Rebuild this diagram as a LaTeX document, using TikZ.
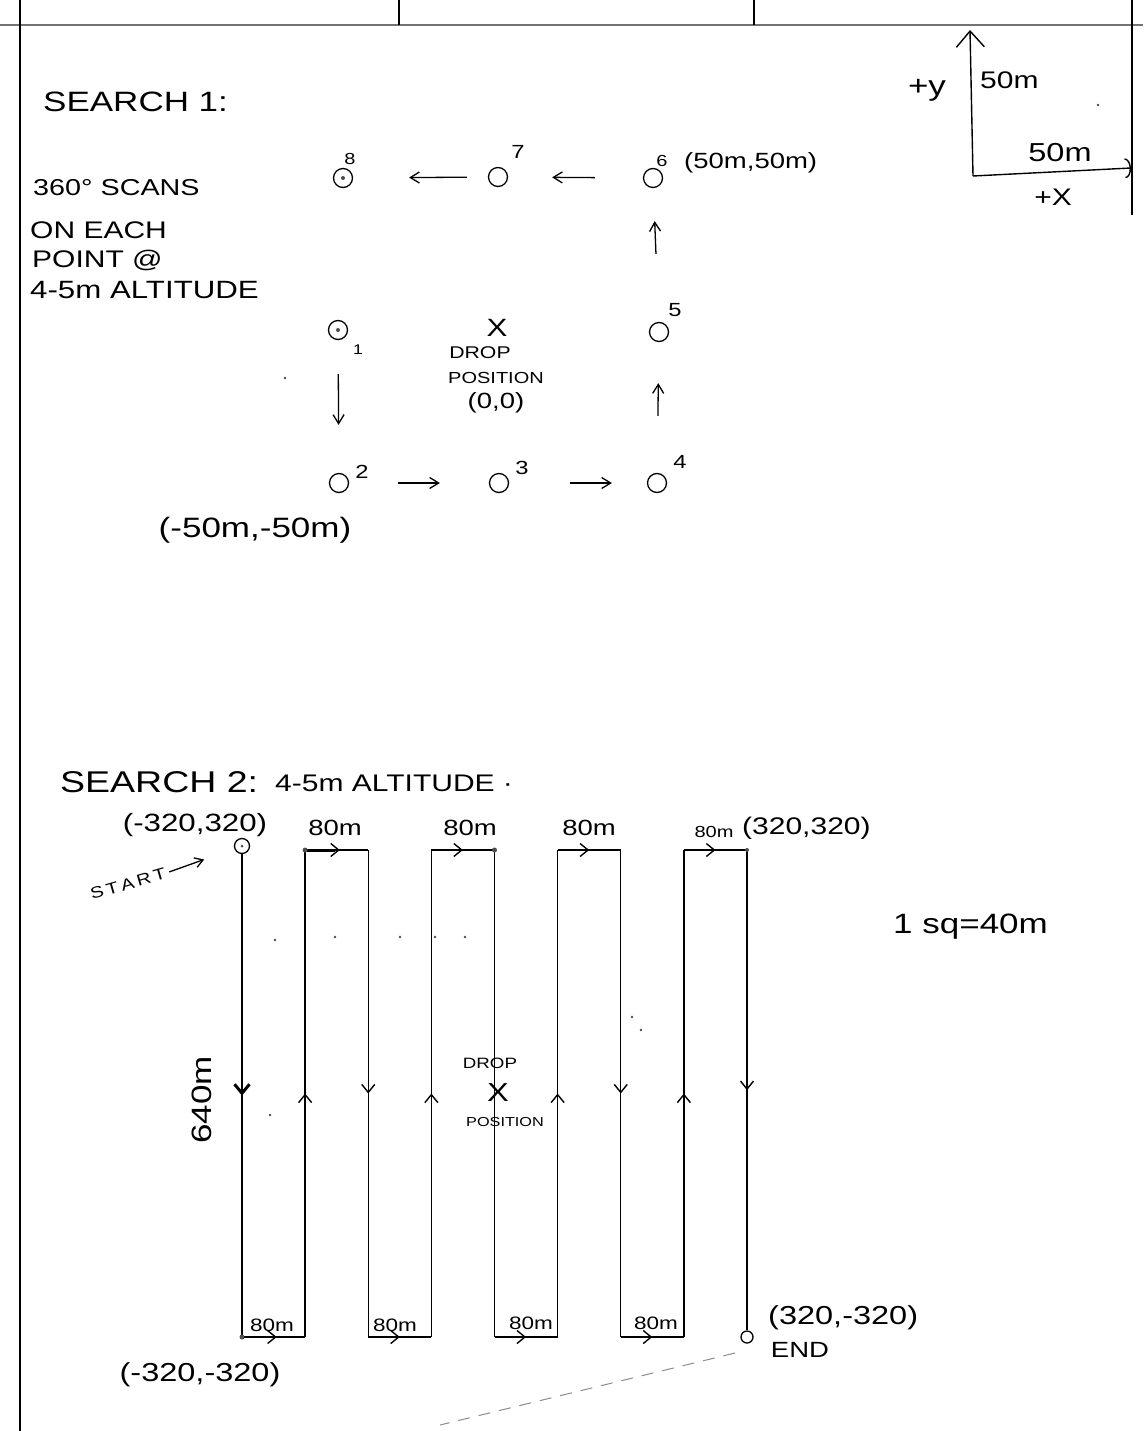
\documentclass[tikz,border=0pt]{standalone}
\usepackage{fontspec}
\setmainfont{Liberation Sans}[FakeStretch=1.25]
\usetikzlibrary{arrows.meta,decorations.markings}
\newcommand\fsz[1]{\fontsize{#1}{#1}\selectfont}
\begin{document}
\begin{tikzpicture}[x=1pt,y=-1pt,
  txt/.style={inner sep=0pt, font=\fsz{#1}},
  wp/.style={circle, draw, line width=1.3, minimum size=19, inner sep=0pt},
  harrow/.style={line width=1.3, -{Straight Barb[length=9,width=11]}},
  seg/.style={line width=1.4},
  arr/.style={postaction={decorate}, decoration={markings, mark=at position #1 with {\arrow{Straight Barb[length=8,width=13]}}}},
  arrb/.style={postaction={decorate}, decoration={markings, mark=at position #1 with {\arrow{Straight Barb[length=9,width=15,line width=3]}}}},
  speck/.style={fill=black!70, draw=none, circle, inner sep=0pt, minimum size=2.5}
]
\useasboundingbox[fill=white] (0,0) rectangle (1143,1431);

% ---- page frame ----
\draw[black!55, line width=2] (0,25) -- (1143,25);
\draw[line width=1.5] (20,0) -- (20,1431);
\draw[line width=1.5] (399,0) -- (399,25);
\draw[line width=1.5] (754,0) -- (754,25);
\draw[line width=1.5] (1132,0) -- (1132,215);

% ---- axes ----
\coordinate (axo) at (973,176);
\coordinate (axy) at (970,30);
\coordinate (axx) at (1131,168);
\draw[line width=1.4, -{Straight Barb[length=16,width=28]}] (axo) -- (axy);
\draw[line width=1.4, -{Arc Barb[length=6,width=20]}] (axo) -- (axx);
\node[txt=28] (ylab) at (927,90) {+y};
\node[txt=24, anchor=west] (y50) at (980,80) {50m};
\node[txt=26] (x50) at (1060,153) {50m};
\node[txt=24] (xlab) at (1053,197) {+X};

% ---- search 1 ----
\node[txt=28, anchor=west] (s1title) at (43,102) {SEARCH 1:};
\node[txt=23, anchor=west] (scan1) at (33,188) {360° SCANS};
\node[txt=24, anchor=west] (scan2) at (30,230) {ON EACH};
\node[txt=24, anchor=west] (scan3) at (32,260) {POINT @};
\node[txt=25, anchor=west] (scan4) at (30,290) {4-5m ALTITUDE};

\node[wp] (p1) at (338,330) {};
\node[wp] (p2) at (339,483) {};
\node[wp] (p3) at (499,483) {};
\node[wp] (p4) at (657,483) {};
\node[wp] (p5) at (659,332) {};
\node[wp] (p6) at (653,178) {};
\node[wp] (p7) at (498,177) {};
\node[wp] (p8) at (343,178) {};
\node[speck, minimum size=4] (p1d) at (p1) {};
\node[speck, minimum size=4] (p8d) at (p8) {};

\node[txt=14] (n1) at (358,350) {1};
\node[txt=19] (n2) at (362,472) {2};
\node[txt=19] (n3) at (522,468) {3};
\node[txt=19] (n4) at (680,462) {4};
\node[txt=19] (n5) at (675,310) {5};
\node[txt=16] (n6) at (662,161) {6};
\node[txt=19] (n7) at (518,152) {7};
\node[txt=16] (n8) at (350,159) {8};

\draw[harrow, shorten <=34, shorten >=48] (p1) -- (p2);
\draw[harrow, shorten <=49, shorten >=49] (p2) -- (p3);
\draw[harrow, shorten <=61, shorten >=35] (p3) -- (p4);
\draw[harrow, shorten <=57, shorten >=41] (p4) -- (p5);
\draw[harrow, shorten <=68, shorten >=33] (p5) -- (p6);
\draw[harrow, shorten <=48, shorten >=44] (p6) -- (p7);
\draw[harrow, shorten <=21, shorten >=56] (p7) -- (p8);

\node[txt=25] (drop1x) at (497,328) {X};
\node[txt=17] (drop1a) at (480,353) {DROP};
\node[txt=16] (drop1b) at (496,378) {POSITION};
\node[txt=22] (drop1c) at (496,403) {(0,0)};
\node[txt=22, anchor=west] (c6lab) at (684,163) {(50m,50m)};
\node[txt=28] (c2lab) at (255,530) {(-50m,-50m)};

% ---- search 2 ----
\node[txt=30, anchor=west] (s2title) at (60,782) {SEARCH 2:};
\node[txt=24, anchor=west] (s2alt) at (275,783) {4-5m ALTITUDE ·};

\foreach \i in {0,...,8} {
  \coordinate (t\i) at ({242+63.125*\i},850);
  \coordinate (b\i) at ({242+63.125*\i},1337);
}
\node[circle, draw, line width=1.3, minimum size=15, inner sep=0pt] (start) at (242,846) {};
\node[speck, minimum size=3] (startd) at (start) {};
\node[circle, draw, line width=1.3, minimum size=12, inner sep=0pt] (endc) at (747,1337) {};

\draw[seg, arrb=0.5] (start) -- (b0);
\draw[seg, arr=0.55] (b0) -- (b1);
\draw[seg, arr=0.5] (b1) -- (t1);
\draw[seg, arr=0.55] (t1) -- (t2);
\draw[seg, arr=0.5] (t2) -- (b2);
\draw[seg, arr=0.5] (b2) -- (b3);
\draw[seg, arr=0.5] (b3) -- (t3);
\draw[seg, arr=0.5] (t3) -- (t4);
\draw[seg] (t4) -- (b4);
\draw[seg, arr=0.5] (b4) -- (b5);
\draw[seg, arr=0.5] (b5) -- (t5);
\draw[seg, arr=0.5] (t5) -- (t6);
\draw[seg, arr=0.5] (t6) -- (b6);
\draw[seg, arr=0.5] (b6) -- (b7);
\draw[seg, arr=0.5] (b7) -- (t7);
\draw[seg, arr=0.5] (t7) -- (t8);
\draw[seg, arr=0.5] (t8) -- (endc);
\draw[line width=3] (t1) -- ++(30,0);
\node[speck, minimum size=5] (dt1) at (t1) {};
\node[speck, minimum size=5] (dt4) at (t4) {};
\node[speck, minimum size=5] (db0) at (b0) {};
\node[speck, minimum size=4] (dt8) at (t8) {};

\node[txt=25] (startlab) at (195,825) {(-320,320)};
\node[txt=16, rotate=16] (startword) at (128,884) {S\hspace{3pt}T\hspace{3pt}A\hspace{3pt}R\hspace{3pt}T};
\draw[line width=1.3, -{Straight Barb[length=8,width=10]}, shorten <=4, shorten >=32] (startword.east) -- (start);
\node[txt=22] (top80a) at (335,828) {80m};
\node[txt=22] (top80b) at (470,828) {80m};
\node[txt=22] (top80c) at (589,828) {80m};
\node[txt=16] (top80d) at (714,832) {80m};
\node[txt=24, anchor=west] (trlab) at (742,828) {(320,320)};
\node[txt=28, anchor=west] (sqlab) at (893,927) {1 sq=40m};
\node[txt=28, rotate=90] (len640) at (202,1100) {640m};
\node[txt=15] (drop2a) at (490,1063) {DROP};
\node[txt=26] (drop2x) at (498,1093) {X};
\node[txt=13] (drop2b) at (505,1122) {POSITION};
\node[txt=18] (bot80a) at (272,1325) {80m};
\node[txt=18] (bot80b) at (395,1325) {80m};
\node[txt=18] (bot80c) at (531,1323) {80m};
\node[txt=18] (bot80d) at (656,1323) {80m};
\node[txt=26] (bllab) at (200,1375) {(-320,-320)};
\node[txt=26, anchor=west] (brlab) at (768,1318) {(320,-320)};
\node[txt=22] (endlab) at (800,1350) {END};

% ---- specks and faint trace ----
\foreach \p in {(275,940),(335,937),(400,937),(435,937),(465,937),(632,1017),(641,1030),(270,1115),(1098,105),(285,378)}
  \fill[black!70] \p circle (1.4);
\draw[black!45, line width=1, dash pattern=on 12pt off 9pt] (735,1353) -- (440,1425);
\end{tikzpicture}
\end{document}
